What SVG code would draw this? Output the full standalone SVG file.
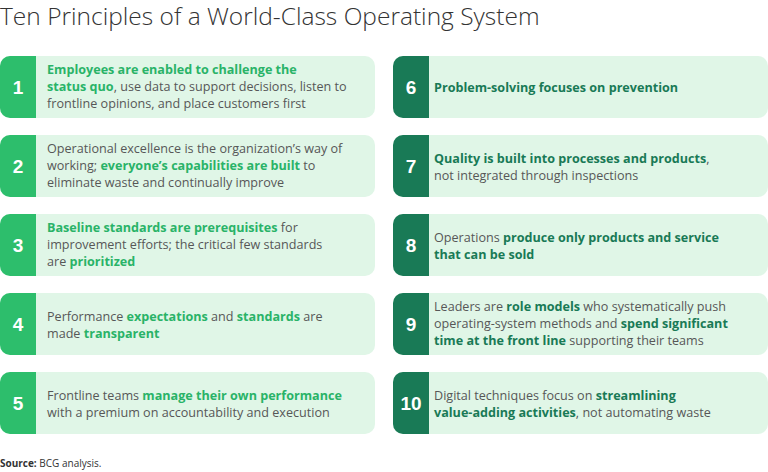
<svg xmlns="http://www.w3.org/2000/svg" width="768" height="472" viewBox="0 0 768 472">
<style>
.card{fill:#e0f6e7}
.sl{fill:#2dbe6c}
.sr{fill:#197a56}
.num{font-family:"Liberation Sans",Arial,sans-serif;font-weight:bold;font-size:19px;fill:#fff;text-anchor:middle}
.t{font-family:"Open Sans","Liberation Sans",sans-serif;font-size:12.6px;fill:#575757}
.bl{font-weight:bold;fill:#29b368}
.br{font-weight:bold;fill:#197a56}
</style>
<rect width="768" height="472" fill="#fff"/>
<text x="0" y="25" font-family="Open Sans,Liberation Sans,sans-serif" font-weight="300" font-size="24.5" fill="#333">Ten Principles of a World-Class Operating System</text>
<defs>
<clipPath id="cl"><rect x="0" y="0" width="375" height="62" rx="10"/></clipPath>
</defs>
<g id="n1" transform="translate(0,56)"><g clip-path="url(#cl)"><rect class="card" width="375" height="62"/><rect class="sl" width="36" height="62"/></g><text class="num" x="18" y="38">1</text>
<text class="t" x="47" y="18"><tspan class="bl">Employees are enabled to challenge the</tspan><tspan x="47" dy="17" class="bl">status quo</tspan>, use data to support decisions, listen to<tspan x="47" dy="17">frontline opinions, and place customers first</tspan></text></g>
<g id="n2" transform="translate(0,135)"><g clip-path="url(#cl)"><rect class="card" width="375" height="62"/><rect class="sl" width="36" height="62"/></g><text class="num" x="18" y="38">2</text>
<text class="t" x="47" y="18">Operational excellence is the organization’s way of<tspan x="47" dy="17">working; </tspan><tspan class="bl">everyone’s capabilities are built</tspan> to<tspan x="47" dy="17">eliminate waste and continually improve</tspan></text></g>
<g id="n3" transform="translate(0,214)"><g clip-path="url(#cl)"><rect class="card" width="375" height="62"/><rect class="sl" width="36" height="62"/></g><text class="num" x="18" y="38">3</text>
<text class="t" x="47" y="18"><tspan class="bl">Baseline standards are prerequisites</tspan> for<tspan x="47" dy="17">improvement efforts; the critical few standards</tspan><tspan x="47" dy="17">are </tspan><tspan class="bl">prioritized</tspan></text></g>
<g id="n4" transform="translate(0,293)"><g clip-path="url(#cl)"><rect class="card" width="375" height="62"/><rect class="sl" width="36" height="62"/></g><text class="num" x="18" y="38">4</text>
<text class="t" x="47" y="28">Performance <tspan class="bl">expectations</tspan> and <tspan class="bl">standards</tspan> are<tspan x="47" dy="17">made </tspan><tspan class="bl">transparent</tspan></text></g>
<g id="n5" transform="translate(0,372)"><g clip-path="url(#cl)"><rect class="card" width="375" height="62"/><rect class="sl" width="36" height="62"/></g><text class="num" x="18" y="38">5</text>
<text class="t" x="47" y="28">Frontline teams <tspan class="bl">manage their own performance</tspan><tspan x="47" dy="17">with a premium on accountability and execution</tspan></text></g>
<g id="n6" transform="translate(393,56)"><g clip-path="url(#cl)"><rect class="card" width="375" height="62"/><rect class="sr" width="36" height="62"/></g><text class="num" x="18" y="38">6</text>
<text class="t" x="41" y="36"><tspan class="br">Problem-solving focuses on prevention</tspan></text></g>
<g id="n7" transform="translate(393,135)"><g clip-path="url(#cl)"><rect class="card" width="375" height="62"/><rect class="sr" width="36" height="62"/></g><text class="num" x="18" y="38">7</text>
<text class="t" x="41" y="28"><tspan class="br">Quality is built into processes and products</tspan>,<tspan x="41" dy="17">not integrated through inspections</tspan></text></g>
<g id="n8" transform="translate(393,214)"><g clip-path="url(#cl)"><rect class="card" width="375" height="62"/><rect class="sr" width="36" height="62"/></g><text class="num" x="18" y="38">8</text>
<text class="t" x="41" y="28">Operations <tspan class="br">produce only products and service</tspan><tspan x="41" dy="17" class="br">that can be sold</tspan></text></g>
<g id="n9" transform="translate(393,293)"><g clip-path="url(#cl)"><rect class="card" width="375" height="62"/><rect class="sr" width="36" height="62"/></g><text class="num" x="18" y="38">9</text>
<text class="t" x="41" y="18">Leaders are <tspan class="br">role models</tspan> who systematically push<tspan x="41" dy="17">operating-system methods and </tspan><tspan class="br">spend significant</tspan><tspan x="41" dy="17" class="br">time at the front line</tspan> supporting their teams</text></g>
<g id="n10" transform="translate(393,372)"><g clip-path="url(#cl)"><rect class="card" width="375" height="62"/><rect class="sr" width="36" height="62"/></g><text class="num" x="18" y="38">10</text>
<text class="t" x="41" y="28">Digital techniques focus on <tspan class="br">streamlining</tspan><tspan x="41" dy="17" class="br">value-adding activities</tspan>, not automating waste</text></g>
<g id="connectors"/>
<text x="0" y="467" font-family="Open Sans,Liberation Sans,sans-serif" font-size="10" fill="#333"><tspan font-weight="bold">Source:</tspan> BCG analysis.</text>
</svg>
